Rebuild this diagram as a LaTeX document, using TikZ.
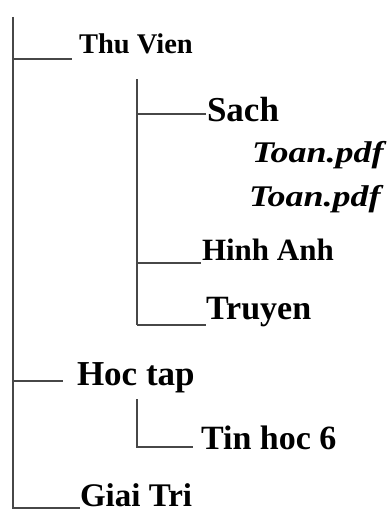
\documentclass[tikz,border=0pt]{standalone}
\usepackage{fontspec}
\usepackage{graphicx}
\setmainfont{Liberation Serif}
\tikzset{
  lbl/.style={anchor=base west, inner sep=0pt, outer sep=0pt, font=\bfseries},
  ln/.style={draw=black!72, line width=1.5pt},
}
\begin{document}
\begin{tikzpicture}[x=1pt,y=-1pt]
\useasboundingbox (0,0) rectangle (389,511);
% coordinates
\coordinate (mTop) at (13,17);
\coordinate (mBot) at (13,509);
\coordinate (jThu) at (13,59);
\coordinate (eThu) at (72,59);
\coordinate (jHoc) at (13,381);
\coordinate (eHoc) at (63,381);
\coordinate (jGiai) at (13,508);
\coordinate (eGiai) at (80,508);
\coordinate (sTop) at (137,79);
\coordinate (sBot) at (137,325);
\coordinate (jSach) at (137,114);
\coordinate (eSach) at (206,114);
\coordinate (jHinh) at (137,263);
\coordinate (eHinh) at (201,263);
\coordinate (jTruyen) at (137,325);
\coordinate (eTruyen) at (206,325);
\coordinate (tTop) at (137,399);
\coordinate (jTin) at (137,447);
\coordinate (eTin) at (193,447);
% texts
\node[lbl, font=\bfseries\fontsize{28.5}{32}\selectfont] (thu) at (79,54) {Thu Vien};
\node[lbl, font=\bfseries\fontsize{35}{40}\selectfont] (sach) at (207,121) {Sach};
\node[lbl, font=\bfseries\itshape\fontsize{30}{34}\selectfont] (toan1) at (252,162) {\scalebox{1.2}[1]{Toan.pdf}};
\node[lbl, font=\bfseries\itshape\fontsize{30}{34}\selectfont] (toan2) at (249,206) {\scalebox{1.2}[1]{Toan.pdf}};
\node[lbl, font=\bfseries\fontsize{31}{35}\selectfont] (hinh) at (202,260) {Hinh Anh};
\node[lbl, font=\bfseries\fontsize{34}{38}\selectfont] (truyen) at (206,319) {Truyen};
\node[lbl, font=\bfseries\fontsize{35}{40}\selectfont] (hoc) at (77,385) {Hoc tap};
\node[lbl, font=\bfseries\fontsize{34}{38}\selectfont] (tin) at (201,449) {Tin hoc 6};
\node[lbl, text depth=0pt, font=\bfseries\fontsize{33}{37}\selectfont] (giai) at (80,506) {Giai Tri};
% lines
\draw[ln] (mTop) -- (mBot);
\draw[ln] (jThu) -- (eThu);
\draw[ln] (jHoc) -- (eHoc);
\draw[ln] (jGiai) -- (eGiai);
\draw[ln] (sTop) -- (sBot);
\draw[ln] (jSach) -- (eSach);
\draw[ln] (jHinh) -- (eHinh);
\draw[ln] (jTruyen) -- (eTruyen);
\draw[ln] (tTop) -- (jTin) -- (eTin);
\end{tikzpicture}
\end{document}
